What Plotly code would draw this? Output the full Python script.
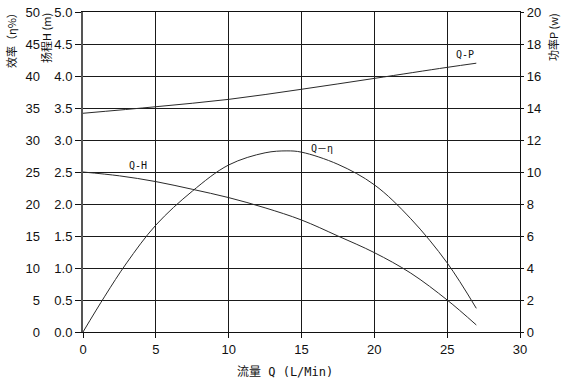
import plotly.graph_objects as go

# ---- data ----
q_h = [0, 2.5, 5, 7.5, 10, 12.5, 15, 17.5, 20, 22.5, 25, 27]
head = [2.50, 2.44, 2.35, 2.23, 2.10, 1.94, 1.75, 1.50, 1.24, 0.92, 0.50, 0.11]

q_eta = [0, 1.5, 3, 5, 7.5, 10, 12.5, 14, 15, 17.5, 20, 22.5, 25, 27]
eta = [0, 5.6, 10.8, 16.7, 22.0, 26.1, 28.0, 28.3, 28.1, 26.2, 23.0, 17.7, 10.8, 3.7]

q_p = [0, 5, 10, 15, 20, 25, 27]
power = [13.67, 14.08, 14.54, 15.17, 15.85, 16.54, 16.8]

x_ticks = [0, 5, 10, 15, 20, 25, 30]

W, H = 567, 382
plot_left, plot_right, plot_top, plot_bottom = 83, 520, 12, 332
ML = 40
MR = W - plot_right
MT = plot_top
MB = H - plot_bottom
PW = W - ML - MR
PH = H - MT - MB


def px(xp):
    return (xp - ML) / PW


def py(yp):
    return (plot_bottom - yp) / PH


line_col = "#2a2a2a"
grid_col = "#1a1a1a"
font_main = "Liberation Sans, Arial, sans-serif"
font_cjk = "Noto Sans CJK SC, sans-serif"
font_mono = "DejaVu Sans Mono, Noto Sans CJK SC, monospace"

fig = go.Figure()
fig.add_trace(go.Scatter(x=q_h, y=head, mode="lines", line=dict(color=line_col, width=1, shape="spline"),
                         yaxis="y", showlegend=False, hoverinfo="skip"))
fig.add_trace(go.Scatter(x=q_eta, y=eta, mode="lines", line=dict(color=line_col, width=1, shape="spline"),
                         yaxis="y2", showlegend=False, hoverinfo="skip"))
fig.add_trace(go.Scatter(x=q_p, y=power, mode="lines", line=dict(color=line_col, width=1, shape="spline"),
                         yaxis="y3", showlegend=False, hoverinfo="skip"))

tickfont = dict(family=font_main, size=13, color="#111")


def label(text, x, y, font, xref="paper", yref="paper", angle=0):
    return dict(text=text, xref=xref, yref=yref, x=x, y=y, showarrow=False,
                xanchor="center", yanchor="middle", textangle=angle, font=font)


cjk11 = dict(family=font_cjk, size=11, color="#111")
mono10 = dict(family=font_mono, size=10, color="#111")

fig.update_layout(
    width=W, height=H,
    margin=dict(l=ML, r=MR, t=MT, b=MB, pad=0, autoexpand=False),
    paper_bgcolor="white", plot_bgcolor="white",
    xaxis=dict(domain=[(plot_left - ML) / PW, 1], range=[0, 30], tickvals=x_ticks,
               showgrid=True, gridcolor=grid_col, gridwidth=1.3, automargin=False,
               showline=True, linecolor="#111", linewidth=1.3, mirror=True,
               ticks="outside", ticklen=5, tickcolor="#111", tickfont=tickfont, zeroline=False),
    yaxis=dict(range=[0, 5], dtick=0.5, tickformat=".1f", automargin=False,
               showgrid=True, gridcolor=grid_col, gridwidth=1.3,
               showline=True, linecolor="#555", linewidth=2,
               ticks="outside", ticklen=6, tickcolor="#111", tickfont=tickfont, zeroline=False),
    yaxis2=dict(range=[0, 50], dtick=5, overlaying="y", side="left", anchor="free", position=0,
                automargin=False,
                showgrid=False, showline=False, ticks="", tickfont=tickfont, zeroline=False),
    yaxis3=dict(range=[0, 20], dtick=2, overlaying="y", side="right", anchor="x", automargin=False,
                showgrid=False, showline=True, linecolor="#111", linewidth=1.3,
                ticks="outside", ticklen=3, tickcolor="#111", tickfont=tickfont, zeroline=False),
    annotations=[
        label("效率（η%）", px(11), py(38), cjk11, angle=-90),
        label("扬程H (m)", px(46), py(38), cjk11, angle=-90),
        label("功率P (w)", px(553), py(37), cjk11, angle=-90),
        label("流量 Q (L/Min)", px(285), py(372), dict(family=font_mono, size=12, color="#111")),
        label("Q-P", 26.2, 4.33, mono10, xref="x", yref="y"),
        label("Q-H", 3.75, 2.6, mono10, xref="x", yref="y"),
        label("Q－η", 16.4, 2.86, mono10, xref="x", yref="y"),
    ],
)

# remove the browser's default page margin so the figure sits at the window's top-left corner
fig.write_html("out.html", config={"displayModeBar": False},
               post_script="document.body.style.margin='0';")
